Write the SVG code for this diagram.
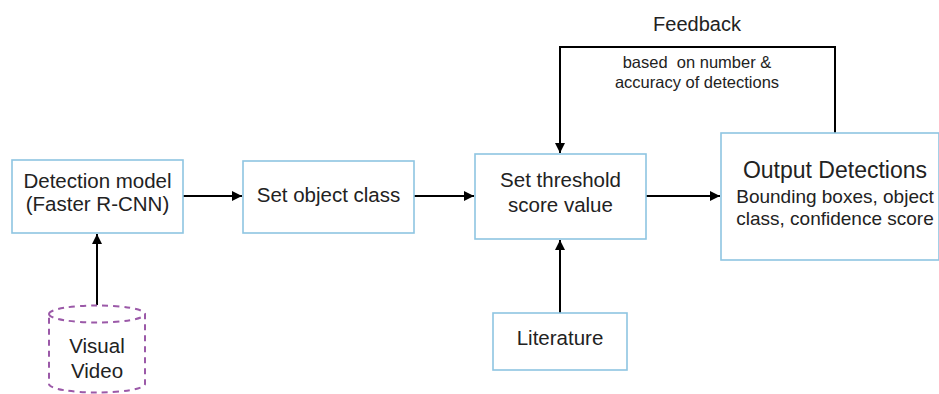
<svg xmlns="http://www.w3.org/2000/svg" width="939" height="394" viewBox="0 0 939 394">
<style>
.box{fill:#fff;stroke:#8ec5e2;stroke-width:1.6}
.t{font-family:"Liberation Sans",Arial,sans-serif;fill:#222;text-anchor:middle;font-size:20.5px}
.c{stroke:#000;stroke-width:2;fill:none}
</style>
<defs>
<marker id="ah" viewBox="0 0 10 10" refX="10" refY="5" markerWidth="10" markerHeight="10" markerUnits="userSpaceOnUse" orient="auto">
<path d="M0,0 L10,5 L0,10 z" fill="#000"/>
</marker>
</defs>
<rect width="939" height="394" fill="#fff"/>
<g id="connectors">
<line class="c" x1="183" y1="196" x2="242" y2="196" marker-end="url(#ah)"/>
<line class="c" x1="414" y1="196" x2="474" y2="196" marker-end="url(#ah)"/>
<line class="c" x1="646" y1="196" x2="720" y2="196" marker-end="url(#ah)"/>
<line class="c" x1="97" y1="305" x2="97" y2="234" marker-end="url(#ah)"/>
<line class="c" x1="560" y1="313" x2="560" y2="240" marker-end="url(#ah)"/>
<polyline class="c" points="835,133 835,47 560,47 560,153" marker-end="url(#ah)"/>
<text class="t" x="697" y="31" style="font-size:20px">Feedback</text>
<text class="t" x="697" y="68" style="font-size:16.5px" xml:space="preserve">based  on number &amp;</text>
<text class="t" x="697" y="88" style="font-size:16.5px">accuracy of detections</text>
</g>
<g id="detection">
<rect class="box" x="12" y="160" width="171" height="73"/>
<text class="t" x="97.5" y="188">Detection model</text>
<text class="t" x="97.5" y="211">(Faster R-CNN)</text>
</g>
<g id="objclass">
<rect class="box" x="243" y="161" width="171" height="72"/>
<text class="t" x="328.5" y="202">Set object class</text>
</g>
<g id="threshold">
<rect class="box" x="475" y="154" width="171" height="85"/>
<text class="t" x="560.5" y="187">Set threshold</text>
<text class="t" x="560.5" y="212">score value</text>
</g>
<g id="output">
<rect class="box" x="721" y="133" width="218" height="127"/>
<text class="t" x="835" y="178" style="font-size:23px">Output Detections</text>
<text class="t" x="835" y="203" style="font-size:19px">Bounding boxes, object</text>
<text class="t" x="835" y="225" style="font-size:19px">class, confidence score</text>
</g>
<g id="literature">
<rect class="box" x="493" y="313" width="134" height="57"/>
<text class="t" x="560" y="345">Literature</text>
</g>
<g id="video">
<path d="M49,314 A48,8.5 0 0 1 145,314 L145,384 A48,8.5 0 0 1 49,384 Z M49,314 A48,8.5 0 0 0 145,314" fill="#fff" stroke="#9b59a8" stroke-width="2" stroke-dasharray="6,5"/>
<text class="t" x="97" y="353">Visual</text>
<text class="t" x="97" y="378">Video</text>
</g>
</svg>
